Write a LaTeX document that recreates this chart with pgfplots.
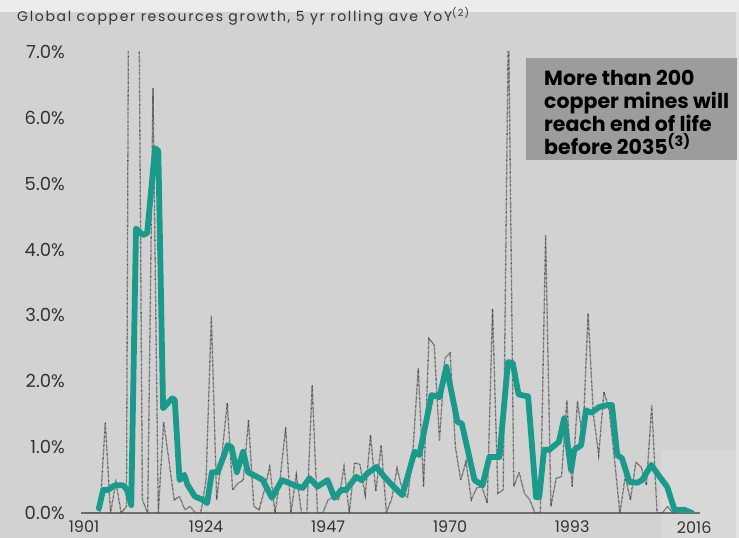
\documentclass[border=0pt]{standalone}
\usepackage{pgfplots}
\pgfplotsset{compat=1.18}
\usepackage{fontspec}
\setmainfont{Poppins}
\definecolor{bg}{HTML}{D2D2D2}
\definecolor{topbg}{HTML}{ECECEC}
\definecolor{rightbg}{HTML}{E4E4E4}
\definecolor{patchbg}{HTML}{D8D8D8}
\definecolor{tealline}{HTML}{1A9A8A}
\definecolor{boxgrey}{HTML}{9B9D9D}
\definecolor{txt}{HTML}{333333}
\definecolor{axisgrey}{HTML}{6E6E6E}
\definecolor{dotgrey}{HTML}{4A4A4A}

\pgfplotstableread{
year val
1901 0
1902 0
1903 0
1904 0
1905 1.38
1906 0
1907 0.47
1908 0
1909 0.1
1910 20
1911 12
1912 0.2
1913 0
1914 6.45
1915 0
1916 1.38
1917 0.8
1918 0.2
1919 0.25
1920 0.05
1921 0.1
1922 0
1923 0
1924 0.5
1925 3.0
1926 0.2
1927 0.9
1928 1.67
1929 0.35
1930 0.45
1931 0.5
1932 1.41
1933 0.1
1934 0.05
1935 0.35
1936 0.7
1937 0
1938 0.55
1939 1.3
1940 0
1941 0.58
1942 0
1943 0
1944 1.94
1945 0
1946 0
1947 0.2
1948 0.24
1949 0.2
1950 0.7
1951 0
1952 0.76
1953 0.74
1954 0.27
1955 1.18
1956 0.33
1957 1.03
1958 0
1959 0.22
1960 0.68
1961 0.35
1962 0.23
1963 0.96
1964 2.2
1965 0.4
1966 2.65
1967 2.55
1968 1.1
1969 2.35
1970 2.43
1971 1.0
1972 0.5
1973 0.78
1974 0.2
1975 0.38
1976 0.4
1977 0.15
1978 3.1
1979 0.3
1980 0.35
1981 7.6
1982 0.4
1983 0.62
1984 0.3
1985 0.2
1986 0
1987 0
1988 4.22
1989 0.1
1990 0.53
1991 0.55
1992 1.71
1993 0.4
1994 1.7
1995 1.1
1996 3.03
1997 1.5
1998 0.88
1999 1.84
2000 1.56
2001 0.8
2002 0
2003 0.55
2004 0.2
2005 0.77
2006 0.7
2007 0.42
2008 1.64
2009 0
2010 0
2011 0.1
2012 0
2013 0
}\annual

\pgfplotstableread{
year val
1903.8 0.07
1904.6 0.35
1905.5 0.35
1906.8 0.42
1908.4 0.42
1909.1 0.35
1909.9 0.12
1910.8 4.32
1912.1 4.22
1912.9 4.25
1914.4 5.54
1915.0 5.50
1915.9 1.59
1917.6 1.74
1918.1 1.72
1919.0 0.50
1919.9 0.58
1920.5 0.43
1921.9 0.25
1923.4 0.20
1924.2 0.15
1925.1 0.62
1926.2 0.62
1928.1 1.03
1928.8 1.00
1929.8 0.62
1931.0 0.93
1931.9 0.62
1933.6 0.55
1934.7 0.50
1936.4 0.23
1938.3 0.50
1940.7 0.42
1942.2 0.38
1943.5 0.53
1945.0 0.40
1946.9 0.50
1948.2 0.23
1949.5 0.35
1950.4 0.35
1952.3 0.55
1953.3 0.50
1954.4 0.60
1956.1 0.70
1957.6 0.55
1959.1 0.42
1961.0 0.27
1963.3 0.93
1964.2 0.88
1966.5 1.79
1968.0 1.76
1969.3 2.22
1971.4 1.38
1972.2 1.36
1974.6 0.50
1976.1 0.42
1977.4 0.85
1979.3 0.85
1980.9 2.29
1981.8 2.28
1982.9 1.80
1984.7 1.77
1986.2 0.24
1986.8 0.24
1987.7 0.96
1988.7 0.96
1990.5 1.08
1991.5 1.44
1992.8 0.65
1993.4 0.96
1994.7 1.03
1995.6 1.56
1996.6 1.52
1998.1 1.61
1999.8 1.64
2000.5 1.64
2001.5 0.88
2002.4 0.83
2003.8 0.47
2005.3 0.46
2006.2 0.50
2007.9 0.73
2009.5 0.55
2010.9 0.40
2012.3 0.05
2014.1 0.05
2015.6 0.00
}\rolling

\begin{document}
\begin{tikzpicture}
\path[use as bounding box] (-81pt,-25pt) rectangle (658pt,513pt);
\clip (-81pt,-25pt) rectangle (658pt,513pt);
\fill[bg] (-81pt,-25pt) rectangle (658pt,513pt);
\fill[topbg] (-81pt,501pt) rectangle (658pt,513pt);
\fill[rightbg] (655pt,-25pt) rectangle (658pt,501pt);
\fill[patchbg] (580pt,-25pt) rectangle (655pt,63pt);
\begin{axis}[
  at={(0pt,0pt)}, anchor=south west,
  scale only axis, width=619pt, height=461pt,
  xmin=1900.43, xmax=2017.1, ymin=0, ymax=7,
  axis x line=bottom, axis y line=left,
  axis line style={-},
  y axis line style={draw=none},
  x axis line style={draw=axisgrey, line width=1.6pt},
  major tick length=0pt,
  xtick={1901,1924,1947,1970,1993,2016},
  xticklabels={1901,1924,1947,1970,1993,2016},
  ytick={0,1,2,3,4,5,6,7},
  yticklabels={0.0\%,1.0\%,2.0\%,3.0\%,4.0\%,5.0\%,6.0\%,7.0\%},
  tick label style={text=txt},
  yticklabel style={font=\fontsize{18}{18}\selectfont, anchor=east, inner sep=0pt, xshift=-16pt},
  xticklabel style={font=\fontsize{16}{16}\selectfont, anchor=north, inner sep=0pt, yshift=-8pt},
  clip=true,
]
\addplot[dotgrey, line width=1.3pt, dash pattern=on 0.6pt off 0.7pt] table[x=year,y=val] {\annual};
\addplot[tealline, line width=5.8pt, line join=round, line cap=round] table[x=year,y=val] {\rolling};
\end{axis}
\node[anchor=base west, inner sep=0pt, font=\fontsize{14}{14}\selectfont\addfontfeature{LetterSpace=12}, text=txt] at (-64pt,491pt) {Global copper resources growth, 5 yr rolling ave YoY\textsuperscript{(2)}};
\fill[boxgrey] (445pt,353pt) rectangle (656pt,455pt);
\node[anchor=north west, align=left, inner sep=0pt, font=\bfseries\fontsize{20.5}{23}\selectfont, text=black] at (463pt,443pt) {More than 200\\copper mines will\\reach end of life\\before 2035\textsuperscript{(3)}};
\end{tikzpicture}
\end{document}
